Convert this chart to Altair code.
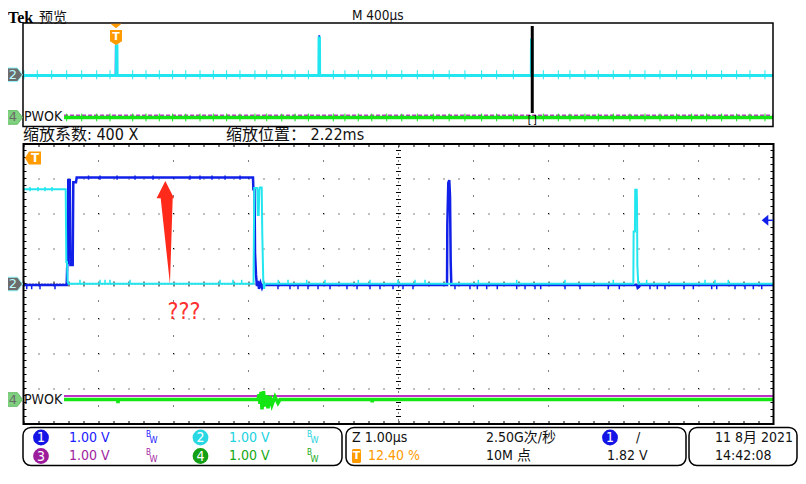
import altair as alt
import pandas as pd

# ======================= values =======================
# ---- zoom window (Z 1.00 us/div), time in us relative to zoom position 2.22 ms
ch1_t = [-5.0, -4.424, -4.416, -4.41, -4.403, -4.383, -4.375, -4.344, -4.336, -4.300,
         -4.291, -1.940, -1.935, -1.920, -1.913, -1.900, -1.887, -1.873, -1.860, -1.840,
         -1.820, -1.807, 0.647, 0.651, 0.664, 0.677, 0.687, 0.696, 0.704, 3.180,
         3.189, 3.207, 3.220, 5.0]
ch1_v = [-0.03, -0.03, 0.60, 0.60, 2.97, 2.97, 0.54, 0.54, 2.91, 2.91,
         3.04, 3.04, 2.71, 2.71, 0.89, 0.26, -0.06, 0.09, -0.14, 0.03,
         -0.11, -0.03, -0.03, 1.69, 2.89, 2.97, 2.49, 0.63, -0.03, -0.03,
         -0.11, -0.08, -0.03, -0.03]
ch2_t = [-5.0, -4.437, -4.429, -4.420, -4.411, -4.400, -1.933, -1.923, -1.883, -1.876,
         -1.864, -1.856, -1.847, -1.824, -1.816, -1.803, -1.793, -1.780, 3.131, 3.135,
         3.153, 3.156, 3.176, 3.180, 3.185, 3.197, 5.0]
ch2_v = [2.71, 2.71, 0.63, 0.63, 0.06, 0.01, 0.01, 2.74, 2.74, 1.97,
         1.97, 2.69, 2.76, 2.76, 1.40, 0.11, -0.14, 0.01, 0.01, 1.50,
         1.50, 2.69, 2.69, 2.31, 0.51, 0.01, 0.01]
ch3_t = [-4.46, 5.0]
ch3_v = [0.10, 0.10]
ch4_t = [-4.46, -3.745, -3.740, -3.735, -1.873, -1.860, -1.847, -1.833, -1.820, -1.800,
         -1.780, -1.760, -1.740, -1.713, -1.687, -1.647, -1.607, -1.580, -0.355, -0.350,
         -0.345, 5.0]
ch4_v = [0.0, 0.0, -0.10, 0.0, 0.0, 0.15, -0.12, 0.22, -0.28, 0.24,
         -0.20, 0.12, -0.25, 0.10, -0.15, 0.08, -0.10, 0.0, 0.0, -0.08,
         0.0, 0.0]

# small glitches riding on the traces (time positions, us)
ch1_low_glitch_t = [-4.957, -4.891, -4.78, -4.58, -1.607, -1.447, -1.34, -1.207, -1.073, -0.913,
                    -0.687, -0.553, -0.38, -0.247, -0.073, 0.06, 0.193, 0.753, 0.953, 1.051,
                    1.176, 1.317, 1.576, 1.687, 1.82, 1.896, 2.22, 2.42, 2.797, 2.944,
                    3.353, 3.451, 3.553, 3.807, 3.931, 4.176, 4.243, 4.487, 4.62, 4.731, 4.843]
ch2_low_glitch_t = [-4.247, -3.98, -3.913, -3.847, -3.58, -2.38, -2.207, -2.091, -1.603, -1.473,
                    -1.224, -0.98, -0.536, -0.38, -0.007, 0.22, 0.353, 1.064, 1.576, 2.22,
                    2.864, 3.309, 4.087, 4.22, 4.397]
ch1_high_glitch_t = [-4.133, -3.98, -3.753, -3.513, -3.273, -2.78, -2.647, -2.487, -2.313, -2.113]
ch2_high_glitch_t = [-4.913, -4.807, -4.713, -4.62]

# channel ground positions (divisions from bottom), 1.00 V/div
ch_pos = {"1": 4.0, "2": 4.0, "3": 0.7, "4": 0.7}
trig_level_v = 1.82

# ---- overview record (M 400 us/div), time in ms relative to trigger
record_ms = [-0.496, 3.504]
zoom_pos_ms = 2.22
ov_ch1_t = [-0.496, -0.003, -0.002, -0.001, 0.000, 1.082, 1.083, 1.085, 1.086, 2.215,
            2.216, 2.218, 2.219, 3.504]
ov_ch1_v = [-0.10, -0.10, 2.24, 2.24, -0.10, -0.10, 3.00, 3.00, -0.10, -0.10,
            2.70, 2.70, -0.10, -0.10]
ov_ch2_t = [-0.496, 0.002, 0.003, 0.005, 0.006, 1.082, 1.083, 1.085, 1.086, 2.215,
            2.216, 2.218, 2.219, 3.504]
ov_ch2_v = [-0.05, -0.05, 2.24, 2.24, -0.05, -0.05, 2.85, 2.85, -0.05, -0.05,
            2.68, 2.68, -0.05, -0.05]
ov_ch3_t = [-0.277, 3.504]
ov_ch3_v = [0.17, 0.17]
ov_ch4_t = [-0.277, 3.504]
ov_ch4_v = [0.0, 0.0]
ov_tick_t = [-0.491, -0.420, -0.343, -0.263, -0.183, -0.103, -0.032, 0.089, 0.160, 0.231,
             0.302, 0.372, 0.448, 0.519, 0.590, 0.661, 0.741, 0.804, 0.884, 0.955,
             1.026, 1.159, 1.221, 1.292, 1.364, 1.444, 1.524, 1.607, 1.692, 1.777,
             1.861, 1.950, 2.030, 2.119, 2.279, 2.359, 2.421, 2.501, 2.572, 2.652,
             2.741, 2.821, 2.901, 2.990, 3.070, 3.150, 3.230, 3.310, 3.381, 3.461]

# annotation
arrow_t, arrow_div = -3.109, 5.47
qmark_t, qmark_div = -2.86, 3.2

# ======================= styling =======================
BLUE = "#1020e8"
CYAN = "#22e6ef"
GREEN = "#14e614"
MAGENTA = "#c030c8"
ORANGE = "#ff9a00"
RED = "#ff2a1a"
FONT = "'Liberation Sans Narrow', 'DejaVu Sans Condensed', 'Noto Sans CJK SC', sans-serif"
CJK = "'Noto Sans CJK SC', sans-serif"

X_MAIN = alt.Scale(domain=[-5, 5], range=[15.5, 765.5], nice=False, zero=False)
Y_MAIN = alt.Scale(domain=[0, 8], range=[416, 136], nice=False, zero=False)
X_OV = alt.Scale(domain=record_ms, range=[15, 765], nice=False, zero=False)
Y_OV = alt.Scale(domain=[0, 8], range=[118.5, 15], nice=False, zero=False)


def xq(f, sc):
    return alt.X(f"{f}:Q", scale=sc, axis=None)


def yq(f, sc):
    return alt.Y(f"{f}:Q", scale=sc, axis=None)


def line(t, v, pos, xs, ys, color, width, **kw):
    df = pd.DataFrame({"t": t, "y": [pos + a for a in v], "i": list(range(len(t)))})
    return alt.Chart(df).mark_line(color=color, strokeWidth=width, **kw).encode(
        x=xq("t", xs), y=yq("y", ys), order="i:Q")


def hrules(yv, x0, x1, xs, ys, **kw):
    df = pd.DataFrame({"y": yv, "x0": x0, "x1": x1})
    return alt.Chart(df).mark_rule(**kw).encode(x=xq("x0", xs), x2="x1:Q", y=yq("y", ys))


def vrules(xv, y0, y1, xs, ys, **kw):
    df = pd.DataFrame({"x": xv, "y0": y0, "y1": y1})
    return alt.Chart(df).mark_rule(**kw).encode(x=xq("x", xs), y=yq("y0", ys), y2="y1:Q")


def texts(rows, font=FONT, weight="normal", align="left", baseline="middle"):
    df = pd.DataFrame(rows, columns=["text", "x", "y", "c", "s"])
    return alt.Chart(df).mark_text(font=font, fontWeight=weight, align=align,
                                   baseline=baseline).encode(
        x=alt.X("x:Q", scale=None, axis=None), y=alt.Y("y:Q", scale=None, axis=None),
        text="text:N", color=alt.Color("c:N", scale=None), size=alt.Size("s:Q", scale=None))


def one(**cols):
    return pd.DataFrame({k: [v] for k, v in cols.items()})


MARK_R = "M-1,-0.8L0.4,-0.8L1,0L0.4,0.8L-1,0.8Z"
SHIELD = "M-0.8,-1L0.8,-1L0.8,0.5L0,1L-0.8,0.5Z"
TRI_DN = "M-1,-0.4L1,-0.4L0,0.4Z"
MARK_L = "M-1,0L-0.5,-0.8L1,-0.8L1,0.8L-0.5,0.8Z"
TRI_L = "M-0.6,0L0.6,-1L0.6,1Z"
RED_ARROW = "M0,-1L0.17,-0.665L0.143,-0.665L0.09,1L-0.09,-0.665L-0.17,-0.665Z"

layers = []

# ---------------- overview panel ----------------
ov_lo, ov_hi = record_ms
layers.append(line(ov_ch3_t, ov_ch3_v, ch_pos["3"], X_OV, Y_OV, MAGENTA, 1.5, strokeDash=[4, 2]))
layers.append(line(ov_ch4_t, ov_ch4_v, ch_pos["4"], X_OV, Y_OV, GREEN, 3.5))
g_ticks = [t for t in ov_tick_t if t > ov_ch4_t[0]]
layers.append(vrules(g_ticks, ch_pos["4"] - 0.3, ch_pos["4"] + 0.3, X_OV, Y_OV,
                     color=GREEN, strokeWidth=1))
layers.append(line(ov_ch1_t, ov_ch1_v, ch_pos["1"], X_OV, Y_OV, BLUE, 1.5))
layers.append(line(ov_ch2_t, ov_ch2_v, ch_pos["2"], X_OV, Y_OV, CYAN, 3))
layers.append(vrules(ov_tick_t, ch_pos["2"] - 0.35, ch_pos["2"] + 0.35, X_OV, Y_OV,
                     color=CYAN, strokeWidth=1))
# zoom window indicator
layers.append(vrules([zoom_pos_ms], 1.04, 7.77, X_OV, Y_OV, color="black", strokeWidth=3))
layers.append(alt.Chart(one(t=zoom_pos_ms, y=0.54)).mark_text(
    text="[]", font="DejaVu Sans Mono", fontSize=10, color="black").encode(
    x=xq("t", X_OV), y=yq("y", Y_OV)))
# border
layers.append(alt.Chart(one(x0=ov_lo, x1=ov_hi, y0=0, y1=8)).mark_rect(
    fillOpacity=0, stroke="black", strokeWidth=1.5).encode(
    x=xq("x0", X_OV), x2="x1:Q", y=yq("y0", Y_OV), y2="y1:Q"))
# trigger marker (t = 0)
layers.append(alt.Chart(one(t=0.0)).mark_point(shape=TRI_DN, size=121, filled=True,
                                                fill=ORANGE, opacity=1, strokeWidth=0).encode(
    x=xq("t", X_OV), y=alt.value(18)))
layers.append(alt.Chart(one(t=0.0)).mark_point(shape=SHIELD, size=225, filled=True,
                                                fill=ORANGE, opacity=1, strokeWidth=0).encode(
    x=xq("t", X_OV), y=alt.value(29.5)))
layers.append(alt.Chart(one(t=0.0)).mark_text(text="T", font="DejaVu Sans", fontWeight="bold",
                                               fontSize=11, color="white").encode(
    x=xq("t", X_OV), y=alt.value(28.5)))

# ---------------- main (zoom) panel ----------------
# grid
layers.append(hrules([1, 2, 3, 5, 6, 7], -5, 5, X_MAIN, Y_MAIN, color="black",
                     strokeWidth=1, strokeDash=[1, 14]))
layers.append(vrules([-4, -3, -2, -1, 1, 2, 3, 4], 0, 8, X_MAIN, Y_MAIN, color="black",
                     strokeWidth=1, strokeDash=[1, 16.5]))
layers.append(vrules([0], 0, 8, X_MAIN, Y_MAIN, color="black", strokeWidth=1, strokeDash=[1, 2.5]))
layers.append(vrules([0], 0, 8, X_MAIN, Y_MAIN, color="black", strokeWidth=5, strokeDash=[1, 6]))
layers.append(hrules([4], -5, 5, X_MAIN, Y_MAIN, color="black", strokeWidth=1, strokeDash=[1, 2]))
layers.append(hrules([4], -5, 5, X_MAIN, Y_MAIN, color="black", strokeWidth=5, strokeDash=[1, 14]))
# inner border ticks
layers.append(hrules([8 - 1.5 / 35, 1.5 / 35], -5, 5, X_MAIN, Y_MAIN, color="black",
                     strokeWidth=3, strokeDash=[1, 14]))
layers.append(vrules([-5 + 1.5 / 75, 5 - 1.5 / 75], 0, 8, X_MAIN, Y_MAIN, color="black",
                     strokeWidth=3, strokeDash=[1, 6]))

# traces
layers.append(line(ch3_t, ch3_v, ch_pos["3"], X_MAIN, Y_MAIN, MAGENTA, 2))
layers.append(line(ch4_t, ch4_v, ch_pos["4"], X_MAIN, Y_MAIN, GREEN, 3.5))
layers.append(line(ch1_t, ch1_v, ch_pos["1"], X_MAIN, Y_MAIN, BLUE, 2.5))
layers.append(vrules(ch1_low_glitch_t, ch_pos["1"] - 0.03, ch_pos["1"] - 0.15, X_MAIN, Y_MAIN,
                     color=BLUE, strokeWidth=1.5))
layers.append(vrules(ch1_high_glitch_t, ch_pos["1"] + 2.98, ch_pos["1"] + 3.10, X_MAIN, Y_MAIN,
                     color=BLUE, strokeWidth=1.5))
layers.append(line(ch2_t, ch2_v, ch_pos["2"], X_MAIN, Y_MAIN, CYAN, 2))
layers.append(vrules(ch2_low_glitch_t, ch_pos["2"] + 0.01, ch_pos["2"] + 0.12, X_MAIN, Y_MAIN,
                     color=CYAN, strokeWidth=1.5))
layers.append(vrules(ch2_high_glitch_t, ch_pos["2"] + 2.65, ch_pos["2"] + 2.77, X_MAIN, Y_MAIN,
                     color=CYAN, strokeWidth=1.5))

# border
layers.append(alt.Chart(one(x0=-5, x1=5, y0=0, y1=8)).mark_rect(
    fillOpacity=0, stroke="black", strokeWidth=2).encode(
    x=xq("x0", X_MAIN), x2="x1:Q", y=yq("y0", Y_MAIN), y2="y1:Q"))

# trigger-level arrow (ch1, 1.82 V)
lvl = ch_pos["1"] + trig_level_v
layers.append(alt.Chart(one(y=lvl)).mark_point(shape=TRI_L, size=121, filled=True, fill=BLUE,
                                               opacity=1, strokeWidth=0).encode(
    x=alt.value(757), y=yq("y", Y_MAIN)))
layers.append(alt.Chart(one(y=lvl)).mark_rule(color=BLUE, strokeWidth=1.5).encode(
    x=alt.value(759), x2=alt.value(765), y=yq("y", Y_MAIN)))

# trigger-off-screen marker
layers.append(alt.Chart(one(a=0)).mark_point(shape=MARK_L, size=256, filled=True, fill=ORANGE,
                                             opacity=1, strokeWidth=0).encode(
    x=alt.value(25), y=alt.value(150)))
layers.append(alt.Chart(one(a=0)).mark_text(text="T", font="DejaVu Sans", fontWeight="bold",
                                            fontSize=12, color="white").encode(
    x=alt.value(27), y=alt.value(150)))

# red annotation arrow and ???
layers.append(alt.Chart(one(t=arrow_t, y=arrow_div)).mark_point(
    shape=RED_ARROW, size=10609, filled=True, fill=RED, opacity=1, strokeWidth=0).encode(
    x=xq("t", X_MAIN), y=yq("y", Y_MAIN)))
layers.append(alt.Chart(one(t=qmark_t, y=qmark_div)).mark_text(
    text="???", font=FONT, fontSize=23, color="#ff3030").encode(
    x=xq("t", X_MAIN), y=yq("y", Y_MAIN)))

# channel ground markers and labels
for ys in [Y_OV, Y_MAIN]:
    layers.append(alt.Chart(one(y=ch_pos["2"])).mark_point(
        shape=MARK_R, size=289, filled=True, fill="#6c6c6c", stroke="#8ff4f8", strokeWidth=1,
        opacity=1).encode(x=alt.value(6), y=yq("y", ys)))
    layers.append(alt.Chart(one(y=ch_pos["2"])).mark_text(
        text="2", font="DejaVu Sans", fontSize=13, color="#b8fbff").encode(
        x=alt.value(5), y=yq("y", ys)))
    layers.append(alt.Chart(one(y=ch_pos["4"])).mark_point(
        shape=MARK_R, size=289, filled=True, fill="#7fd17f", stroke="#66bb66", strokeWidth=1,
        opacity=1).encode(x=alt.value(6), y=yq("y", ys)))
    layers.append(alt.Chart(one(y=ch_pos["4"])).mark_text(
        text="4", font="DejaVu Sans", fontSize=13, color="#6a6a6a").encode(
        x=alt.value(5), y=yq("y", ys)))
    layers.append(alt.Chart(one(y=ch_pos["4"])).mark_text(
        text="PWOK", font=FONT, fontSize=14, color="#111111", align="left").encode(
        x=alt.value(16), y=yq("y", ys)))

# header texts
layers.append(texts([["Tek", 0, 14.5, "black", 16]],
                    font="'Liberation Serif', 'DejaVu Serif', serif", weight="bold",
                    baseline="alphabetic"))
layers.append(texts([["预览", 31, 14, "#111111", 14]], font=CJK, baseline="alphabetic"))
layers.append(texts([["M 400µs", 344, 8, "#111111", 13.5],
                     ["缩放系数: 400 X", 15, 127, "#111111", 16],
                     ["缩放位置： 2.22ms", 218, 127, "#111111", 16]]))

# ---------------- status bar ----------------
R1, R2 = 429.5, 448
box_df = pd.DataFrame({"x0": [15, 338, 681], "x1": [334, 678, 789],
                       "y0": [419.5] * 3, "y1": [457.5] * 3})
layers.append(alt.Chart(box_df).mark_rect(cornerRadius=8, fill="white", stroke="black",
                                          strokeWidth=1.5).encode(
    x=alt.X("x0:Q", scale=None, axis=None), x2="x1:Q",
    y=alt.Y("y0:Q", scale=None, axis=None), y2="y1:Q"))

circ_df = pd.DataFrame({"x": [33, 192.5, 33, 192.5, 602], "y": [R1, R1, R2, R2, R1],
                        "c": ["#1414e6", "#2ad8e4", "#9c1c9c", "#14a014", "#1414e6"]})
layers.append(alt.Chart(circ_df).mark_circle(size=250, opacity=1).encode(
    x=alt.X("x:Q", scale=None, axis=None), y=alt.Y("y:Q", scale=None, axis=None),
    color=alt.Color("c:N", scale=None)))
layers.append(texts([["1", 33, R1 + 0.5, "white", 14], ["2", 192.5, R1 + 0.5, "white", 14],
                     ["3", 33, R2 + 0.5, "white", 14], ["4", 192.5, R2 + 0.5, "white", 14],
                     ["1", 602, R1 + 0.5, "white", 14]], align="center"))

ST_BLUE, ST_CYAN, ST_PURPLE, ST_GREEN = "#1a1aff", "#22d2e0", "#a01ea0", "#14a814"
SZ = 14
layers.append(texts([
    ["1.00 V", 61, R1, ST_BLUE, SZ], ["1.00 V", 221, R1, ST_CYAN, SZ],
    ["1.00 V", 61, R2, ST_PURPLE, SZ], ["1.00 V", 221, R2, ST_GREEN, SZ],
    ["Z 1.00µs", 344, R1, "#111111", SZ], ["12.40 %", 360, R2, ORANGE, SZ],
    ["2.50G次/秒", 478, R1, "#111111", SZ], ["10M 点", 478, R2, "#111111", SZ],
    ["/", 628, R1, "#111111", SZ], ["1.82 V", 599, R2, "#111111", SZ],
    ["11 8月 2021", 707, R1, "#111111", SZ], ["14:42:08", 707, R2, "#111111", SZ],
]))
bw_rows = []
for bx, row, col in [(138, R1, ST_BLUE), (299, R1, ST_CYAN), (138, R2, ST_PURPLE), (299, R2, ST_GREEN)]:
    bw_rows.append(["B", bx, row - 3, col, 8])
    bw_rows.append(["W", bx + 3.5, row + 2.5, col, 9])
layers.append(texts(bw_rows))
# small orange trigger-position icon
layers.append(alt.Chart(one(x0=344, x1=353, y0=R2 - 7, y1=R2 + 7)).mark_rect(
    fill=ORANGE, cornerRadius=1.5).encode(
    x=alt.X("x0:Q", scale=None, axis=None), x2="x1:Q",
    y=alt.Y("y0:Q", scale=None, axis=None), y2="y1:Q"))
layers.append(texts([["T", 348.5, R2, "white", 11]], font="DejaVu Sans", weight="bold",
                    align="center"))

chart = alt.layer(*layers).resolve_scale(x="independent", y="independent").properties(
    width=790, height=468, padding=0, background="white",
    autosize=alt.AutoSizeParams(type="none")
).configure_view(strokeWidth=0)

chart.save("out.html", embed_options={"renderer": "svg", "actions": False})
